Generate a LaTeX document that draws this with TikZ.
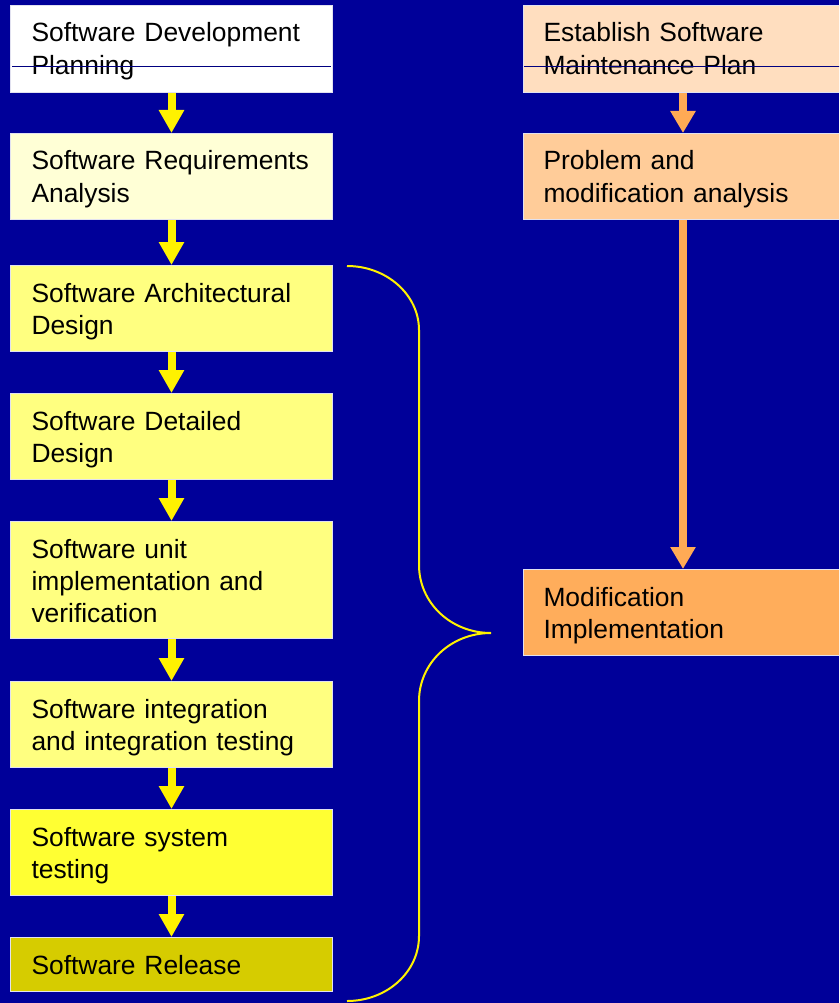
\documentclass[tikz,border=0pt]{standalone}
\usepackage{fontspec}
\setmainfont{Liberation Sans}
\usetikzlibrary{arrows.meta}
\definecolor{bgblue}{RGB}{0,0,153}
\definecolor{navy}{RGB}{0,0,128}
\definecolor{edgegray}{RGB}{225,225,240}
\definecolor{cream}{RGB}{255,255,214}
\definecolor{paleyellow}{RGB}{255,255,128}
\definecolor{brightyellow}{RGB}{255,255,51}
\definecolor{olive}{RGB}{214,204,0}
\definecolor{peachlight}{RGB}{255,222,191}
\definecolor{peach}{RGB}{255,204,153}
\definecolor{orangebox}{RGB}{255,173,91}
\definecolor{orangearrow}{RGB}{255,170,85}
% text sits at a fixed inset from the top edge of each box:
% text height = inset to first baseline, text depth = the rest of the box
\tikzset{
  box/.style={draw=edgegray, line width=1pt, rectangle, anchor=north west,
    inner ysep=0pt, align=left, text height=36.5pt,
    font=\fontsize{26.4}{32.2}\selectfont, text=black},
  leftbox/.style={box, minimum width=322pt, inner xsep=21pt, text width=280pt},
  rightbox/.style={box, minimum width=340pt, inner xsep=20pt, text width=300pt},
  flow/.style={yellow, line width=8pt, -{Triangle[width=24pt,length=23pt]}},
  oflow/.style={orangearrow, line width=8pt, -{Triangle[width=24pt,length=22pt]}},
  strike/.style={navy, line width=1pt},
  bracket/.style={yellow, line width=2pt}
}
\begin{document}
\begin{tikzpicture}[x=1pt,y=-1pt]
  \fill[bgblue] (0,0) rectangle (839,1003);
  \useasboundingbox (0,0) rectangle (839,1003);
  \clip (0,0) rectangle (839,1003);

  % development process column
  \node[leftbox, fill=white, minimum height=87pt, text depth=50.5pt] (p1) at (10,5) {Software Development\\Planning};
  \node[leftbox, fill=cream, minimum height=86pt, text depth=49.5pt] (p2) at (10,133) {Software Requirements\\Analysis};
  \node[leftbox, fill=paleyellow, minimum height=86pt, text depth=49.5pt] (p3) at (10,265) {Software Architectural\\Design};
  \node[leftbox, fill=paleyellow, minimum height=86pt, text depth=49.5pt] (p4) at (10,393) {Software Detailed\\Design};
  \node[leftbox, fill=paleyellow, minimum height=117pt, text depth=80.5pt] (p5) at (10,521) {Software unit\\implementation and\\verification};
  \node[leftbox, fill=paleyellow, minimum height=86pt, text depth=49.5pt] (p6) at (10,681) {Software integration\\and integration testing};
  \node[leftbox, fill=brightyellow, minimum height=86pt, text depth=49.5pt] (p7) at (10,809) {Software system\\testing};
  \node[leftbox, fill=olive, minimum height=54pt, text depth=17.5pt] (p8) at (10,937) {Software Release};

  % maintenance process column
  \node[rightbox, fill=peachlight, minimum height=87pt, text depth=50.5pt] (m1) at (523,5) {Establish Software\\Maintenance Plan};
  \node[rightbox, fill=peach, minimum height=86pt, text depth=49.5pt] (m2) at (523,133) {Problem and\\modification analysis};
  \node[rightbox, fill=orangebox, minimum height=86pt, text depth=49.5pt] (m3) at (523,569) {Modification\\Implementation};

  % thin rules across the first boxes
  \draw[strike] ([shift={(2,62)}]p1.north west) -- ([shift={(-2,62)}]p1.north east);
  \draw[strike] ([shift={(1,62)}]m1.north west) -- ([shift={(0,62)}]m1.north east);

  % flow arrows
  \foreach \a/\b in {p1/p2,p2/p3,p3/p4,p4/p5,p5/p6,p6/p7,p7/p8}
    \draw[flow] (\a.south) -- (\b.north);
  \draw[oflow] ([xshift=160pt]m1.south west) -- ([xshift=160pt]m2.north west);
  \draw[oflow] ([xshift=160pt]m2.south west) -- ([xshift=160pt]m3.north west);

  % brace grouping the design-to-release steps
  \coordinate (btop) at (347,266);
  \coordinate (btip) at (491,633);
  \coordinate (bbot) at (347,1001);
  \draw[bracket] (btop) .. controls (387,266) and (419,295) .. (419,330)
    -- (419,565) .. controls (419,603) and (451,633) .. (btip)
    .. controls (451,633) and (419,663) .. (419,701)
    -- (419,936) .. controls (419,972) and (387,1001) .. (bbot);
\end{tikzpicture}
\end{document}
